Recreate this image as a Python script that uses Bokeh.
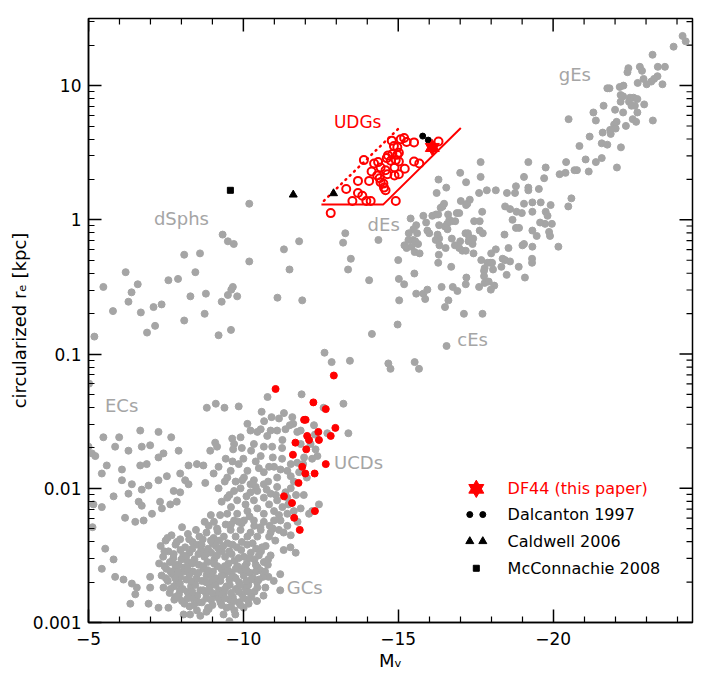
import numpy as np
from bokeh.plotting import figure
from bokeh.models import Range1d, FixedTicker, Label
from bokeh.embed import file_html
from bokeh.resources import INLINE

FONT = "DejaVu Sans"
GRAY = "#a5a5a5"
RED = "#ff0000"

# ---------------- data: (M_V, log10 r_e [kpc]) ----------------
giant_ellipticals = [
    (-24.18, 1.37), (-24.28, 1.33), (-23.89, 1.29), (-23.21, 1.23), (-22.43, 1.13), (-22.40, 1.10), (-22.80, 1.14), (-22.87, 1.11), (-23.38, 1.14), (-23.61, 1.14),
    (-23.37, 1.07), (-23.26, 1.05), (-23.17, 1.03), (-22.92, 1.05), (-22.73, 1.02), (-23.02, 1.01), (-23.53, 1.01), (-21.82, 0.98), (-21.75, 0.98), (-22.15, 0.99),
    (-22.27, 1.00), (-22.18, 0.93), (-22.26, 0.92), (-22.48, 0.91), (-22.60, 0.91), (-22.72, 0.90), (-22.94, 0.86), (-22.18, 0.88), (-22.45, 0.88), (-22.53, 0.85),
    (-22.64, 0.85), (-21.63, 0.85), (-22.00, 0.82), (-22.26, 0.80), (-22.72, 0.80), (-21.30, 0.80), (-21.38, 0.74), (-20.50, 0.75), (-22.57, 0.75), (-22.68, 0.73),
    (-23.22, 0.74), (-22.05, 0.73), (-21.97, 0.71), (-22.02, 0.68), (-22.35, 0.70), (-21.84, 0.67), (-21.86, 0.64), (-21.60, 0.65), (-21.18, 0.62), (-20.85, 0.55),
    (-21.57, 0.57), (-21.75, 0.56), (-22.19, 0.54), (-21.05, 0.45), (-21.38, 0.43), (-21.57, 0.46), (-22.06, 0.39), (-20.42, 0.43), (-20.69, 0.37), (-20.77, 0.37),
    (-21.15, 0.36), (-20.21, 0.34), (-20.40, 0.35), (-19.76, 0.39), (-19.71, 0.31), (-19.20, 0.43), (-19.06, 0.32), (-19.20, 0.24), (-19.20, 0.22), (-19.54, 0.23),
    (-18.80, 0.25), (-18.77, 0.20), (-18.51, 0.20), (-18.15, 0.22), (-17.86, 0.22), (-17.66, 0.43), (-17.66, 0.32), (-18.45, 0.10), (-18.61, 0.08), (-18.82, 0.06),
    (-18.99, 0.05), (-19.06, 0.12), (-19.33, 0.13), (-19.33, 0.06), (-19.60, 0.13), (-19.76, 0.06), (-19.92, 0.11), (-20.49, 0.10), (-20.59, 0.16), (-17.71, 0.06),
]

dwarf_ellipticals = [
    (-17.00, 0.35), (-17.19, 0.28), (-16.30, 0.30), (-16.55, 0.24), (-16.24, 0.20), (-17.61, 0.20), (-17.02, 0.14), (-17.31, 0.15), (-17.23, 0.12), (-17.19, 0.11),
    (-16.48, 0.12), (-16.43, 0.10), (-16.37, 0.09), (-16.10, 0.03), (-16.22, 0.04), (-16.29, 0.04), (-15.81, 0.03), (-15.40, 0.01), (-16.61, 0.04), (-16.89, 0.05),
    (-16.97, 0.05), (-16.65, 0.00), (-16.72, -0.01), (-16.84, -0.01), (-16.58, -0.03), (-16.51, -0.05), (-16.59, -0.07), (-16.32, -0.04), (-15.90, -0.02), (-15.58, -0.04),
    (-15.49, -0.07), (-15.34, -0.10), (-15.61, -0.10), (-15.94, -0.08), (-16.00, -0.10), (-16.27, -0.11), (-16.32, -0.14), (-16.21, -0.15), (-15.33, -0.15), (-15.48, -0.15),
    (-15.55, -0.16), (-15.64, -0.18), (-15.20, -0.19), (-15.27, -0.21), (-15.43, -0.20), (-15.53, -0.24), (-15.69, -0.25), (-16.33, -0.19), (-16.53, -0.21), (-16.73, -0.14),
    (-16.83, -0.19), (-16.97, -0.21), (-17.07, -0.23), (-17.18, -0.23), (-17.17, -0.10), (-17.25, -0.10), (-17.29, -0.13), (-17.34, -0.15), (-17.40, -0.18), (-17.42, -0.14),
    (-17.27, -0.16), (-17.63, -0.01), (-17.63, -0.08), (-17.73, -0.10), (-17.45, -0.01), (-17.43, -0.25), (-17.00, -0.16), (-16.31, -0.26), (-16.29, -0.32), (-16.71, -0.35),
    (-17.68, -0.30), (-17.79, -0.36), (-17.77, -0.38), (-17.88, -0.32), (-17.97, -0.32), (-18.03, -0.32), (-18.06, -0.37), (-18.15, -0.22), (-18.00, -0.25), (-18.37, -0.29),
    (-18.45, -0.30), (-18.61, -0.31), (-18.56, -0.21), (-18.33, -0.35), (-18.43, -0.11), (-18.69, 0.00), (-18.80, -0.06), (-18.90, -0.06), (-19.01, -0.19), (-19.06, -0.18),
    (-19.33, -0.08), (-19.47, -0.12), (-19.33, -0.20), (-19.32, -0.29), (-19.32, -0.32), (-18.89, -0.35), (-18.50, -0.41), (-19.09, -0.43), (-20.17, -0.20), (-19.74, -0.03),
    (-19.58, -0.02), (-19.96, -0.03), (-19.87, -0.09), (-19.90, -0.12), (-19.82, 0.03),
]

compact_ellipticals = [
    (-15.00, -0.30), (-15.02, -0.44), (-15.19, -0.48), (-15.03, -0.60), (-15.52, -0.40), (-15.58, -0.55), (-15.81, -0.55), (-15.94, -0.52), (-15.87, -0.59), (-16.40, -0.50),
    (-16.76, -0.50), (-16.91, -0.53), (-16.62, -0.60), (-16.51, -0.65), (-17.20, -0.43), (-17.18, -0.48), (-17.61, -0.50), (-17.79, -0.47), (-17.77, -0.42), (-18.10, -0.49),
    (-17.99, -0.52), (-17.92, -0.46), (-17.12, -0.70), (-17.72, -0.70), (-14.98, -0.78), (-14.15, -0.85), (-16.56, -0.94), (-14.06, -0.45), (-13.38, -0.37), (-13.47, -0.29),
    (-13.22, -0.17), (-13.29, -0.10), (-14.36, -0.15), (-12.62, -0.99), (-12.85, -1.06), (-13.44, -1.05), (-14.68, -1.07), (-14.75, -1.11), (-15.53, -1.06), (-15.67, -1.11),
]

dwarf_spheroidals = [
    (-10.19, 0.12), (-9.33, -0.11), (-9.50, -0.16), (-9.69, -0.18), (-10.19, -0.31), (-8.09, -0.26), (-8.60, -0.25), (-6.20, -0.39), (-5.48, -0.50), (-5.79, -0.68),
    (-6.29, -0.61), (-6.39, -0.54), (-6.59, -0.48), (-6.69, -0.69), (-7.10, -0.65), (-7.36, -0.63), (-6.89, -0.84), (-7.15, -0.79), (-7.58, -0.45), (-7.89, -0.44),
    (-8.45, -0.39), (-8.29, -0.57), (-8.79, -0.55), (-8.09, -0.75), (-8.75, -0.70), (-9.20, -0.86), (-9.60, -0.82), (-9.30, -0.61), (-9.50, -0.56), (-9.61, -0.52),
    (-9.66, -0.50), (-9.80, -0.57), (-11.31, -0.22), (-11.80, -0.16), (-11.49, -0.37), (-11.10, -0.58), (-11.90, -0.60), (-5.19, -0.87),
]

extended_clusters = [
    (-5.02, -1.22), (-5.48, -1.62), (-5.99, -1.62), (-6.67, -1.57), (-7.26, -1.58), (-7.67, -1.62), (-8.82, -1.40), (-9.11, -1.37),
    (-5.00, -1.69), (-5.11, -1.74), (-5.22, -1.76), (-5.43, -1.89), (-5.86, -1.69), (-6.29, -1.72), (-6.08, -1.86), (-5.59, -1.83), (-6.72, -1.69), (-6.99, -1.68),
    (-6.67, -1.83), (-6.88, -1.82), (-7.42, -1.74), (-7.26, -1.77), (-7.91, -1.72), (-8.23, -1.83), (-8.50, -1.82), (-8.71, -1.83), (-7.96, -1.89), (-8.12, -1.94),
    (-7.53, -1.91), (-7.26, -1.94), (-6.40, -1.97), (-6.08, -1.94), (-6.94, -1.98), (-6.72, -2.01), (-6.62, -2.10), (-6.72, -2.13), (-6.29, -2.04), (-5.81, -2.06),
    (-5.43, -2.14), (-5.16, -2.12), (-5.13, -2.29), (-6.18, -2.22), (-6.51, -2.25), (-6.78, -2.24), (-7.05, -2.19), (-7.37, -2.15), (-7.31, -2.10), (-7.64, -2.12),
    (-7.85, -2.10), (-7.96, -2.03), (-7.75, -2.02), (-8.23, -1.97), (-8.77, -1.96), (-9.04, -1.89), (-9.15, -1.69), (-8.93, -1.72), (-9.09, -1.66), (-9.20, -1.84),
]

ucd_sequence = [
    (-11.88, -1.30), (-10.78, -1.32), (-13.23, -1.37), (-12.59, -1.40), (-9.39, -1.40), (-9.85, -1.39), (-10.59, -1.43), (-10.67, -1.50), (-10.91, -1.47), (-11.15, -1.48),
    (-11.31, -1.44), (-11.58, -1.47), (-11.61, -1.52), (-11.50, -1.53), (-11.36, -1.56), (-11.09, -1.57), (-10.88, -1.57), (-10.77, -1.61), (-10.56, -1.56), (-10.45, -1.58),
    (-10.23, -1.57), (-10.13, -1.52), (-9.91, -1.62), (-9.64, -1.63), (-9.70, -1.67), (-9.67, -1.71), (-10.34, -1.67), (-10.66, -1.69), (-10.93, -1.69), (-11.26, -1.64),
    (-11.74, -1.58), (-11.85, -1.57), (-12.28, -1.53), (-12.31, -1.60), (-12.71, -1.59), (-13.39, -1.59), (-11.85, -1.67), (-12.17, -1.67), (-12.33, -1.71), (-12.39, -1.76),
    (-12.22, -1.78), (-11.96, -1.77), (-11.93, -1.82), (-11.74, -1.81), (-11.53, -1.82), (-11.42, -1.87), (-11.20, -1.86), (-10.99, -1.84), (-10.83, -1.84), (-10.66, -1.88),
    (-10.56, -1.76), (-10.13, -1.87), (-10.02, -1.92), (-9.59, -1.87), (-9.43, -1.78), (-9.48, -1.92), (-9.75, -1.95), (-9.96, -1.94), (-10.34, -1.94), (-10.23, -1.97),
    (-10.66, -1.97), (-11.09, -1.92), (-11.53, -1.91), (-11.63, -1.95), (-11.53, -2.00), (-11.36, -2.03), (-11.09, -1.99), (-10.88, -2.04), (-10.66, -2.07), (-10.45, -2.02),
    (-10.23, -2.03), (-9.91, -2.00), (-9.70, -2.02), (-9.48, -2.07), (-9.80, -2.09), (-10.07, -2.12), (-10.34, -2.09), (-10.83, -2.12), (-11.09, -2.09), (-11.42, -2.07),
    (-11.26, -2.14), (-10.99, -2.17), (-10.66, -2.19), (-10.45, -2.15), (-10.13, -2.17), (-9.80, -2.19), (-9.48, -2.19), (-9.70, -2.24), (-10.02, -2.24), (-10.34, -2.24),
    (-10.66, -2.25), (-10.99, -2.24), (-11.42, -2.19), (-11.63, -2.17), (-11.85, -2.15), (-12.12, -2.19), (-12.22, -2.17), (-12.44, -2.12), (-11.42, -2.28), (-11.15, -2.31),
    (-10.88, -2.33), (-10.56, -2.31), (-10.23, -2.33), (-9.91, -2.31), (-9.59, -2.31), (-9.43, -2.27), (-9.37, -2.36), (-9.75, -2.36), (-10.13, -2.36), (-10.45, -2.36),
    (-10.83, -2.36), (-11.53, -2.35),
    (-9.60, -2.14), (-9.95, -2.26), (-10.20, -2.21), (-10.55, -2.29), (-10.85, -2.28), (-11.20, -2.24), (-11.05, -2.05), (-10.75, -2.01), (-10.40, -1.99), (-10.10, -2.06),
    (-9.85, -2.25), (-11.30, -2.33), (-11.75, -2.25), (-11.95, -2.05), (-12.05, -1.92), (-11.80, -1.88), (-11.25, -1.78), (-10.95, -1.77), (-10.40, -1.80), (-10.00, -1.78),
    (-9.85, -1.82), (-9.60, -2.27),
    (-9.25, -2.20), (-9.05, -2.25), (-9.30, -2.10), (-9.20, -2.00), (-9.40, -1.95), (-9.65, -1.80), (-9.95, -1.70), (-10.25, -1.72), (-10.50, -1.85), (-10.80, -1.95),
    (-11.15, -2.20), (-11.45, -2.12), (-10.95, -2.30), (-10.35, -2.28), (-9.15, -2.30), (-8.95, -2.20), (-8.75, -2.25), (-9.55, -2.05), (-11.70, -2.05), (-11.25, -1.70),
]

gc_outskirts = [
    (-5.54, -2.45), (-5.81, -2.53), (-5.43, -2.60), (-5.86, -2.66), (-6.13, -2.68), (-6.40, -2.71), (-6.56, -2.74), (-6.99, -2.66), (-6.99, -2.74), (-6.94, -2.86),
    (-6.35, -2.86), (-6.51, -2.79), (-7.26, -2.89), (-7.58, -2.89), (-7.80, -2.81), (-8.07, -2.94), (-8.28, -2.94), (-8.50, -2.91), (-8.61, -2.95), (-8.88, -2.90),
    (-9.36, -2.94), (-9.74, -2.94), (-10.01, -2.89), (-10.17, -2.86), (-10.44, -2.84), (-10.65, -2.80), (-10.81, -2.66), (-11.19, -2.64), (-11.19, -2.76), (-10.98, -2.69),
    (-10.71, -2.74), (-11.03, -2.39), (-11.30, -2.46), (-11.52, -2.44), (-11.69, -2.48), (-9.55, -2.99),
]

gc_core = [
    (-8.02, -2.29), (-8.47, -2.31), (-8.88, -2.28), (-9.17, -2.32),
    (-7.68, -2.35), (-8.21, -2.34), (-8.58, -2.36), (-8.81, -2.33), (-9.04, -2.37),
    (-7.49, -2.39), (-7.96, -2.38), (-8.36, -2.40), (-8.69, -2.38), (-9.01, -2.41), (-9.22, -2.39),
    (-7.33, -2.43), (-7.81, -2.42), (-8.12, -2.44), (-8.51, -2.42), (-8.86, -2.45), (-9.11, -2.43), (-9.49, -2.41), (-9.79, -2.44), (-10.12, -2.42), (-10.41, -2.45), (-10.72, -2.43),
    (-7.58, -2.47), (-7.97, -2.46), (-8.26, -2.48), (-8.64, -2.46), (-8.96, -2.48), (-9.31, -2.47), (-9.62, -2.49), (-9.93, -2.46), (-10.24, -2.48), (-10.57, -2.47), (-10.88, -2.50),
    (-7.41, -2.51), (-7.74, -2.52), (-8.06, -2.50), (-8.42, -2.53), (-8.74, -2.51), (-9.06, -2.53), (-9.41, -2.51), (-9.71, -2.54), (-10.02, -2.51), (-10.36, -2.53), (-10.66, -2.55),
    (-7.28, -2.56), (-7.63, -2.55), (-7.91, -2.57), (-8.21, -2.55), (-8.56, -2.57), (-8.84, -2.55), (-9.16, -2.58), (-9.52, -2.56), (-9.81, -2.58), (-10.11, -2.56), (-10.46, -2.59), (-10.79, -2.57),
    (-7.51, -2.60), (-7.79, -2.61), (-8.09, -2.59), (-8.37, -2.62), (-8.71, -2.60), (-9.02, -2.62), (-9.29, -2.60), (-9.61, -2.63), (-9.91, -2.61), (-10.21, -2.63), (-10.54, -2.61),
    (-7.36, -2.65), (-7.71, -2.64), (-7.96, -2.66), (-8.26, -2.64), (-8.49, -2.67), (-8.81, -2.65), (-9.11, -2.67), (-9.39, -2.64), (-9.69, -2.66), (-10.01, -2.65), (-10.31, -2.67), (-10.64, -2.66),
    (-7.56, -2.69), (-7.86, -2.70), (-8.16, -2.68), (-8.41, -2.71), (-8.66, -2.69), (-8.96, -2.71), (-9.26, -2.69), (-9.56, -2.72), (-9.86, -2.70), (-10.16, -2.72), (-10.44, -2.70),
    (-7.42, -2.74), (-7.76, -2.73), (-8.04, -2.75), (-8.31, -2.73), (-8.61, -2.76), (-8.91, -2.74), (-9.21, -2.76), (-9.46, -2.73), (-9.76, -2.75), (-10.06, -2.74), (-10.36, -2.77),
    (-7.62, -2.78), (-7.92, -2.79), (-8.19, -2.77), (-8.51, -2.80), (-8.79, -2.78), (-9.07, -2.80), (-9.36, -2.78), (-9.66, -2.81), (-9.96, -2.79), (-10.26, -2.81),
    (-7.77, -2.83), (-8.02, -2.84), (-8.36, -2.82), (-8.66, -2.85), (-8.96, -2.83), (-9.26, -2.85), (-9.56, -2.83), (-9.86, -2.85), (-10.14, -2.83),
    (-8.26, -2.88), (-8.86, -2.89), (-9.46, -2.89), (-8.81, -2.92), (-9.71, -2.91),
    (-8.35, -2.45), (-8.80, -2.49), (-9.20, -2.45), (-9.55, -2.47), (-9.05, -2.56), (-8.70, -2.58), (-8.35, -2.56), (-9.40, -2.58), (-9.75, -2.60), (-8.55, -2.63),
    (-8.95, -2.64), (-9.30, -2.65), (-9.55, -2.68), (-8.80, -2.70), (-8.45, -2.72), (-9.10, -2.72), (-9.40, -2.75), (-8.70, -2.76), (-9.00, -2.78), (-8.10, -2.62),
    (-7.95, -2.71), (-10.05, -2.58), (-10.25, -2.68), (-9.90, -2.72), (-8.00, -2.53), (-7.80, -2.57), (-10.40, -2.62), (-9.60, -2.78), (-9.20, -2.82), (-8.55, -2.85),
    (-7.55, -2.37), (-7.85, -2.40), (-8.25, -2.38), (-8.65, -2.42), (-8.95, -2.39), (-9.35, -2.43), (-9.65, -2.42), (-9.95, -2.40), (-10.30, -2.41), (-10.60, -2.44),
    (-7.45, -2.47), (-7.75, -2.49), (-8.15, -2.51), (-8.55, -2.49), (-9.15, -2.50), (-9.85, -2.52), (-10.20, -2.52), (-10.50, -2.50), (-10.80, -2.53),
    (-7.45, -2.58), (-7.65, -2.62), (-7.90, -2.62), (-8.20, -2.60), (-8.85, -2.61), (-9.50, -2.61), (-10.10, -2.61), (-10.40, -2.57), (-10.70, -2.62),
    (-7.50, -2.67), (-7.80, -2.67), (-8.30, -2.69), (-9.00, -2.68), (-9.75, -2.67), (-10.10, -2.69), (-10.50, -2.68),
    (-7.65, -2.75), (-7.95, -2.76), (-8.35, -2.77), (-9.30, -2.79), (-9.85, -2.77), (-10.15, -2.77), (-10.45, -2.74),
    (-7.90, -2.81), (-8.20, -2.82), (-8.80, -2.82), (-9.40, -2.82), (-9.70, -2.84), (-10.00, -2.82),
    (-8.10, -2.86), (-8.40, -2.87), (-9.00, -2.87), (-9.30, -2.87), (-9.60, -2.88), (-9.90, -2.87),
]

ucd_red = [
    (-11.04, -1.26), (-12.92, -1.16), (-12.26, -1.36), (-12.66, -1.41), (-11.96, -1.49), (-12.01, -1.49), (-12.97, -1.55), (-12.42, -1.58), (-12.06, -1.61), (-12.12, -1.64),
    (-12.44, -1.64), (-12.82, -1.61), (-11.68, -1.66), (-12.03, -1.71), (-11.60, -1.75), (-12.66, -1.82), (-11.90, -1.84), (-12.00, -1.89), (-12.30, -1.89), (-11.78, -1.96),
    (-11.31, -2.06), (-11.57, -2.11), (-12.31, -2.17), (-11.64, -2.22), (-11.82, -2.31),
]

udgs = [
    (-12.82, 0.05), (-13.52, 0.14), (-13.32, 0.23), (-13.70, 0.29), (-13.70, 0.20), (-13.84, 0.18), (-13.97, 0.14), (-14.11, 0.14), (-14.06, 0.29), (-13.89, 0.445),
    (-14.22, 0.42), (-14.35, 0.43), (-14.43, 0.39), (-14.32, 0.33), (-14.40, 0.31), (-14.43, 0.28), (-14.59, 0.37), (-14.65, 0.34), (-14.52, 0.27), (-14.54, 0.24),
    (-14.59, 0.22), (-14.79, 0.59), (-14.86, 0.55), (-14.97, 0.54), (-15.08, 0.60), (-15.19, 0.61), (-15.27, 0.58), (-15.02, 0.50), (-14.97, 0.485), (-14.81, 0.49),
    (-14.67, 0.48), (-14.63, 0.46), (-14.76, 0.44), (-14.92, 0.445), (-15.02, 0.435), (-14.88, 0.39), (-15.21, 0.38), (-15.02, 0.34), (-14.88, 0.33), (-15.51, 0.577),
    (-15.51, 0.435), (-15.68, 0.42), (-16.30, 0.584), (-14.92, 0.14), (-14.14, 0.36),
]

dalcanton_1997 = [(-15.79, 0.624), (-15.97, 0.594)]
caldwell_2006 = [(-11.61, 0.187), (-12.91, 0.197)]
mcconnachie_2008 = [(-9.58, 0.220)]
df44 = [(-16.10, 0.539)]

# UDG selection region (solid) and dotted boundary
udg_box_mv = [-12.52, -14.52, -17.02]
udg_box_logre = [0.115, 0.115, 0.684]
udg_dot_mv = [-12.60, -15.00]
udg_dot_logre = [0.142, 0.678]

# region labels: (text, M_V, log10 r_e)
region_labels = [("gEs", -20.70, 1.080), ("dSphs", -8.00, 0.008), ("dEs", -14.53, -0.036),
                 ("cEs", -17.40, -0.893), ("ECs", -6.07, -1.384), ("UCDs", -13.72, -1.809),
                 ("GCs", -11.98, -2.739)]
udg_label = ("UDGs", -13.69, 0.730)

# legend entries: (text, colour, log10 r_e of the row)
legend_rows = [("DF44 (this paper)", RED, -2.004), ("Dalcanton 1997", "black", -2.196),
               ("Caldwell 2006", "black", -2.395), ("McConnachie 2008", "black", -2.596)]
legend_text_mv = -18.53
legend_pair_mv = [-17.31, -17.73]
legend_single_mv = -17.52

x_ticks = [-5, -10, -15, -20]
x_tick_labels = ["\u22125", "\u221210", "\u221215", "\u221220"]
x_minor = [-m for m in range(6, 25) if m % 5 != 0]
y_ticks = [0.001, 0.01, 0.1, 1, 10]
y_tick_labels = ["0.001", "0.01", "0.1", "1", "10"]
y_minor = [m * 10.0 ** e for e in range(-3, 2) for m in range(2, 10) if m * 10.0 ** e < 31]

x_title = "M\u1d65"
y_title = "circularized r\u2091 [kpc]"

X0, X1 = -5.0, -24.5
Y0, Y1 = 0.001, 10 ** 1.5
FRAME = 604
MAJ, MIN = 13, 6  # tick lengths in px


def cols(pts):
    mv = np.array([q[0] for q in pts], dtype=float)
    re = 10.0 ** np.array([q[1] for q in pts], dtype=float)
    return mv, re


p = figure(x_range=Range1d(X0, X1), y_range=Range1d(Y0, Y1), y_axis_type="log",
           frame_width=FRAME, frame_height=FRAME, min_border_left=88, min_border_right=16,
           min_border_top=18, min_border_bottom=62, output_backend="svg", toolbar_location=None,
           background_fill_color="white", border_fill_color="white",
           outline_line_color="black", outline_line_width=1.5)
p.grid.visible = False

p.xaxis.ticker = FixedTicker(ticks=x_ticks, minor_ticks=x_minor)
p.yaxis.ticker = FixedTicker(ticks=y_ticks, minor_ticks=y_minor)
p.xaxis.major_label_overrides = dict(zip(x_ticks, x_tick_labels))
p.yaxis.major_label_overrides = dict(zip(y_ticks, y_tick_labels))
for ax in p.xaxis + p.yaxis:
    ax.major_tick_in = MAJ
    ax.major_tick_out = 0
    ax.minor_tick_in = MIN
    ax.minor_tick_out = 0
    ax.axis_line_width = 1.5
    ax.major_tick_line_width = 1.5
    ax.minor_tick_line_width = 1.2
    ax.major_label_text_font = FONT
    ax.major_label_text_font_size = "17px"
    ax.major_label_text_color = "black"
    ax.axis_label_text_font = FONT
    ax.axis_label_text_font_size = "18px"
    ax.axis_label_text_font_style = "normal"
    ax.axis_label_text_color = "black"
p.xaxis.major_label_standoff = 9
p.yaxis.major_label_standoff = 7
p.xaxis.axis_label = x_title
p.yaxis.axis_label = y_title
p.xaxis.axis_label_standoff = 2
p.yaxis.axis_label_standoff = 0

# mirrored ticks on the top and right frame edges (built from the tick lists)
px_per_mag = FRAME / abs(X1 - X0)
px_per_dex = FRAME / np.log10(Y1 / Y0)
for vals, ln, w in ((x_ticks, MAJ, 1.5), (x_minor, MIN, 1.2)):
    v = np.array(vals, dtype=float)
    p.segment(v, np.full(len(v), Y1), v, np.full(len(v), Y1 / 10 ** (ln / px_per_dex)),
              line_color="black", line_width=w)
for vals, ln, w in ((y_ticks, MAJ, 1.5), (y_minor, MIN, 1.2)):
    v = np.array(vals, dtype=float)
    p.segment(np.full(len(v), X1), v, np.full(len(v), X1 + ln / px_per_mag), v,
              line_color="black", line_width=w)

# ---------------- marks ----------------
gray_sets = [giant_ellipticals, dwarf_ellipticals, compact_ellipticals, dwarf_spheroidals,
             extended_clusters, ucd_sequence, gc_outskirts, gc_core]
for s in gray_sets:
    mv, re = cols(s)
    p.scatter(mv, re, marker="circle", size=7, fill_color=GRAY, line_color=GRAY)

bx, by = np.array(udg_box_mv), 10.0 ** np.array(udg_box_logre)
p.line(bx, by, line_color=RED, line_width=2)
dx, dy = np.array(udg_dot_mv), 10.0 ** np.array(udg_dot_logre)
p.line(dx, dy, line_color=RED, line_width=2.5, line_dash="1 5", line_cap="round")

mv, re = cols(ucd_red)
p.scatter(mv, re, marker="circle", size=7, fill_color=RED, line_color=RED)

mv, re = cols(udgs)
p.scatter(mv, re, marker="circle", size=8, fill_color=None, line_color=RED, line_width=2)

mv, re = cols(dalcanton_1997)
p.scatter(mv, re, marker="circle", size=6, fill_color="black", line_color="black")
mv, re = cols(caldwell_2006)
p.scatter(mv, re, marker="triangle", size=8, fill_color="black", line_color="black")
mv, re = cols(mcconnachie_2008)
p.scatter(mv, re, marker="square", size=6, fill_color="black", line_color="black")

mv, re = cols(df44)
p.scatter(mv, re, marker="triangle", size=14, fill_color=RED, line_color=RED)
p.scatter(mv, re, marker="inverted_triangle", size=14, fill_color=RED, line_color=RED)

# ---------------- labels ----------------
for txt, x, ly in region_labels:
    p.add_layout(Label(x=x, y=10.0 ** ly, text=txt, text_font=FONT, text_font_size="18px",
                       text_color=GRAY, text_align="center", text_baseline="middle"))
p.add_layout(Label(x=udg_label[1], y=10.0 ** udg_label[2], text=udg_label[0], text_font=FONT,
                   text_font_size="17px", text_color=RED, text_align="center", text_baseline="middle"))

# legend
for txt, colr, ly in legend_rows:
    p.add_layout(Label(x=legend_text_mv, y=10.0 ** ly, text=txt, text_font=FONT, text_font_size="16px",
                       text_color=colr, text_align="left", text_baseline="middle"))
ly = [r[2] for r in legend_rows]
p.scatter([legend_single_mv], [10.0 ** ly[0]], marker="triangle", size=15, fill_color=RED, line_color=RED)
p.scatter([legend_single_mv], [10.0 ** ly[0]], marker="inverted_triangle", size=15, fill_color=RED, line_color=RED)
p.scatter(legend_pair_mv, [10.0 ** ly[1]] * 2, marker="circle", size=6, fill_color="black", line_color="black")
p.scatter(legend_pair_mv, [10.0 ** ly[2]] * 2, marker="triangle", size=8, fill_color="black", line_color="black")
p.scatter([legend_single_mv], [10.0 ** ly[3]], marker="square", size=6, fill_color="black", line_color="black")

open("out.html", "w").write(file_html(p, INLINE))
